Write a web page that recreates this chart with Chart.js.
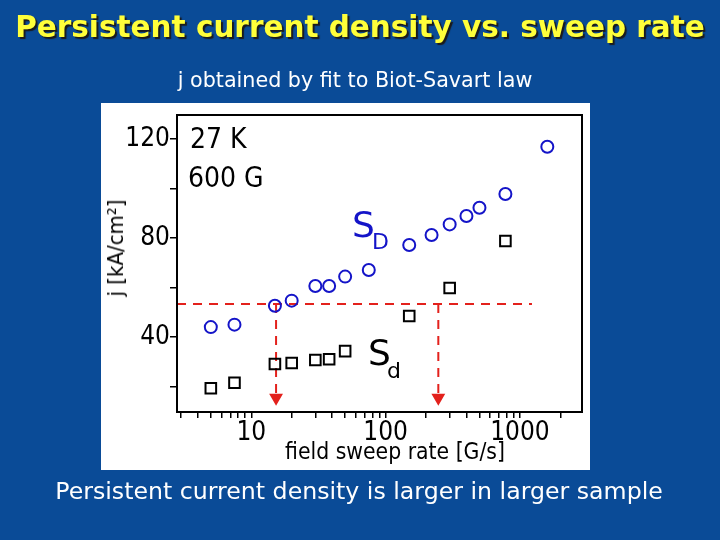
<!DOCTYPE html>
<html>
<head>
<meta charset="utf-8">
<script src="https://cdn.jsdelivr.net/npm/chart.js@4.4.1/dist/chart.umd.min.js"></script>
<style>
  body { margin:0; width:720px; height:540px; overflow:hidden; position:relative; background:#0a4b97; font-family:"DejaVu Sans", sans-serif; }
  #panel { position:absolute; left:101px; top:103px; width:489px; height:367px; background:#fff; }
  #myChart { position:absolute; left:0; top:0; }
  .t { position:absolute; white-space:nowrap; display:inline-block; transform:translate(-50%,-50%); line-height:1; z-index:2; }
  .l { position:absolute; white-space:nowrap; display:inline-block; transform:translate(0,-50%); line-height:1; z-index:2; }
  .hand { font-family:"Liberation Sans Narrow","DejaVu Sans Condensed",sans-serif; color:#000; }
</style>
</head>
<body>
<div id="panel"></div>
<canvas id="myChart" width="720" height="540"></canvas>

<div class="t" id="title" data-w="690" style="left:360px;top:28px;font-size:30px;font-weight:bold;color:#ffff3a;text-shadow:2px 2px 1px #1b1b1b;">Persistent current density vs. sweep rate</div>
<div class="t" data-w="355" style="left:355px;top:80px;font-size:17px;color:#fff;">j obtained by fit to Biot-Savart law</div>
<div class="t" data-w="608" style="left:359px;top:492px;font-size:21px;color:#fff;">Persistent current density is larger in larger sample</div>

<div class="t hand" data-w="220" style="left:395px;top:451px;font-size:26px;">field sweep rate [G/s]</div>
<div class="t hand" style="left:116px;top:248px;font-size:22px;transform:translate(-50%,-50%) rotate(-90deg);">j [kA/cm²]</div>
<div class="l hand" style="left:190px;top:139px;font-size:28px;">27 K</div>
<div class="l hand" style="left:188px;top:178px;font-size:28px;">600 G</div>
<div class="l" style="left:352px;top:225px;font-size:36px;color:#1414c8;">S</div>
<div class="l" style="left:372px;top:242px;font-size:22px;color:#1414c8;">D</div>
<div class="l" style="left:368px;top:353px;font-size:36px;color:#000;">S</div>
<div class="l" style="left:387px;top:371px;font-size:22px;color:#000;">d</div>

<script>
// sweep rates [G/s]
const rateLarge = [5, 7.5, 15, 20, 30, 38, 50, 75, 150, 220, 300, 400, 500, 780, 1600];
const jLarge = [44.0, 45.0, 52.6, 54.7, 60.6, 60.6, 64.4, 67.1, 77.2, 81.2, 85.5, 88.9, 92.2, 97.8, 116.9];
const rateSmall = [5, 7.5, 15, 20, 30, 38, 50, 150, 300, 780];
const jSmall = [19.3, 21.5, 29.1, 29.5, 30.7, 31.0, 34.3, 48.5, 59.8, 78.8];

// dashed guide: same j level read at two rates
const jLevel = 53.3;
const arrowRates = [15.3, 247];
const guideEnd = 1230;
const arrowTip = 15.5;

const xTickLabels = [10, 100, 1000];
const xMinorTicks = [3, 4, 5, 6, 7, 8, 9, 20, 30, 40, 50, 60, 70, 80, 90, 200, 300, 400, 500, 600, 700, 800, 900, 2000];
const yTickLabels = [40, 80, 120];
const yMinorTicks = [20, 60, 100];

const xMin = 2.8, xMax = 2900, yMin = 9.7, yMax = 129.7;
const ctx = document.getElementById("myChart");

const toPts = (xs, ys) => xs.map((x, i) => ({ x: x, y: ys[i] }));

const red = "#e3211c";
const datasets = [
  {
    data: toPts(rateLarge, jLarge),
    showLine: false,
    pointStyle: "circle",
    pointRadius: 6,
    borderWidth: 2,
    borderColor: "#1414c8",
    backgroundColor: "rgba(0,0,0,0)",
  },
  {
    data: toPts(rateSmall, jSmall),
    showLine: false,
    pointStyle: "rect",
    pointRadius: 7.5,
    borderWidth: 2,
    borderColor: "#000",
    backgroundColor: "rgba(0,0,0,0)",
  },
  {
    data: [{ x: xMin, y: jLevel }, { x: guideEnd, y: jLevel }],
    showLine: true,
    borderColor: red,
    borderWidth: 2,
    borderDash: [9, 7],
    pointRadius: 0,
  },
];
arrowRates.forEach((r) => {
  datasets.push({
    data: [{ x: r, y: jLevel }, { x: r, y: arrowTip }],
    showLine: true,
    borderColor: red,
    backgroundColor: red,
    borderWidth: 2,
    borderDash: [9, 7],
    pointStyle: "triangle",
    pointRadius: [0, 6],
    pointRotation: 180,
  });
});

// frame round the plot
const framePlugin = {
  id: "frame",
  afterDraw(chart) {
    const a = chart.chartArea;
    const c = chart.ctx;
    c.save();
    c.strokeStyle = "#000";
    c.lineWidth = 2;
    c.strokeRect(a.left, a.top, a.right - a.left, a.bottom - a.top);
    c.restore();
  },
};

const tickFont = { family: "'Liberation Sans Narrow','DejaVu Sans Condensed',sans-serif", size: 26 };

new Chart(ctx, {
  type: "scatter",
  data: { datasets },
  options: {
    responsive: false,
    animation: false,
    layout: { padding: { left: 100, top: 115, right: 138, bottom: 70 } },
    plugins: { legend: { display: false }, tooltip: { enabled: false } },
    scales: {
      x: {
        type: "logarithmic",
        min: xMin,
        max: xMax,
        afterFit: (s) => { s.height = 58; },
        afterBuildTicks: (s) => {
          s.ticks = xTickLabels.concat(xMinorTicks).sort((a, b) => a - b).map((v) => ({ value: v }));
        },
        ticks: {
          autoSkip: false,
          maxRotation: 0,
          padding: 0,
          color: "#000",
          font: tickFont,
          callback: (v) => (xTickLabels.includes(v) ? String(v) : ""),
        },
        grid: { drawOnChartArea: false, color: "#000", lineWidth: 1.5, tickLength: 6 },
        border: { color: "#000", width: 2 },
      },
      y: {
        min: yMin,
        max: yMax,
        afterFit: (s) => { s.width = 77; },
        afterBuildTicks: (s) => {
          s.ticks = yTickLabels.concat(yMinorTicks).sort((a, b) => a - b).map((v) => ({ value: v }));
        },
        ticks: {
          padding: 0,
          color: "#000",
          font: tickFont,
          callback: (v) => (yTickLabels.includes(v) ? String(v) : ""),
        },
        grid: { drawOnChartArea: false, color: "#000", lineWidth: 1.5, tickLength: 7 },
        border: { color: "#000", width: 2 },
      },
    },
  },
  plugins: [framePlugin],
});

// fit slide texts to the widths seen in the picture
document.querySelectorAll("[data-w]").forEach((el) => {
  const w = +el.dataset.w;
  const fs = parseFloat(getComputedStyle(el).fontSize);
  el.style.fontSize = (fs * w) / el.getBoundingClientRect().width + "px";
});
</script>
</body>
</html>
